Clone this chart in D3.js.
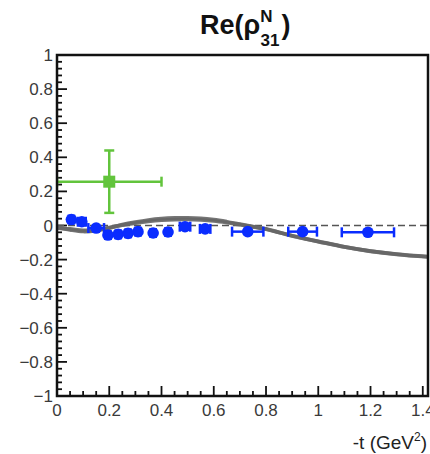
<!DOCTYPE html>
<html>
<head>
<meta charset="utf-8">
<script src="https://d3js.org/d3.v7.min.js"></script>
<style>
  body { margin: 0; background: #fff; }
  text { font-family: "Liberation Sans", Arial, sans-serif; }
</style>
</head>
<body>
<svg id="chart" width="430" height="454"></svg>
<script>
// blue data points: -t, value, x half-error
const blueT   = [0.055, 0.095, 0.15, 0.195, 0.234, 0.272, 0.31, 0.368, 0.425, 0.49, 0.567, 0.73, 0.94, 1.19];
const blueVal = [0.035, 0.022, -0.015, -0.056, -0.052, -0.046, -0.036, -0.044, -0.038, -0.007, -0.02, -0.036, -0.036, -0.04];
const blueEx  = [0.01, 0.015, 0.03, 0.01, 0.01, 0.01, 0.01, 0.01, 0.01, 0.02, 0.02, 0.06, 0.055, 0.1];
const blueEy  = [0.012, 0.012, 0.012, 0.012, 0.012, 0.012, 0.012, 0.012, 0.012, 0.015, 0.015, 0.015, 0.015, 0.015];

// green point
const greenT = [0.2], greenVal = [0.257], greenEx = [0.2], greenEy = [0.183];

// model curves
const curveT = [0, 0.05, 0.1, 0.15, 0.2, 0.25, 0.3, 0.35, 0.4, 0.45, 0.5, 0.55, 0.6, 0.65, 0.7, 0.75, 0.8, 0.85, 0.9, 0.95, 1.0, 1.1, 1.2, 1.3, 1.42];
const curveA = [-0.01, -0.025, -0.035, -0.03, -0.015, 0.005, 0.02, 0.032, 0.04, 0.044, 0.045, 0.042, 0.034, 0.022, 0.008, -0.006, -0.02, -0.04, -0.06, -0.077, -0.093, -0.125, -0.15, -0.168, -0.183];
const curveB = [-0.015, -0.02, -0.028, -0.025, -0.012, 0.002, 0.014, 0.024, 0.031, 0.035, 0.036, 0.033, 0.027, 0.017, 0.005, -0.008, -0.022, -0.041, -0.061, -0.078, -0.094, -0.126, -0.151, -0.169, -0.184];

const xTicks = [0, 0.2, 0.4, 0.6, 0.8, 1, 1.2, 1.4];
const yTicks = [1, 0.8, 0.6, 0.4, 0.2, 0, -0.2, -0.4, -0.6, -0.8, -1];

const svg = d3.select("#chart");
const mLeft = 57, mRight = 428, mTop = 55, mBottom = 396;

const x = d3.scaleLinear().domain([0, 1.42]).range([mLeft, mRight]);
const y = d3.scaleLinear().domain([-1, 1]).range([mBottom, mTop]);

// minor/major ticks on left and bottom
const g = svg.append("g");
d3.range(-1, 1.0001, 0.04).forEach(v => {
  const major = Math.abs(Math.round(v * 5) - v * 5) < 1e-6;
  g.append("line").attr("x1", mLeft).attr("x2", mLeft + (major ? 10 : 5))
    .attr("y1", y(v)).attr("y2", y(v)).attr("stroke", "#111").attr("stroke-width", 1.8);
});
d3.range(0, 1.42, 0.05).forEach(v => {
  const major = Math.abs(Math.round(v * 5) - v * 5) < 1e-6;
  g.append("line").attr("y1", mBottom).attr("y2", mBottom - (major ? 10 : 5))
    .attr("x1", x(v)).attr("x2", x(v)).attr("stroke", "#111").attr("stroke-width", 1.8);
});

// tick labels
const fmt = v => (v < 0 ? "\u2212" : "") + String(Math.abs(Math.round(v * 10) / 10));
svg.selectAll(".ylab").data(yTicks).enter().append("text")
  .attr("x", mLeft - 4).attr("y", d => y(d) + 6)
  .attr("text-anchor", "end").attr("font-size", 17).attr("fill", "#3a3a3a")
  .text(fmt);
svg.selectAll(".xlab").data(xTicks).enter().append("text")
  .attr("x", d => x(d)).attr("y", mBottom + 20)
  .attr("text-anchor", "middle").attr("font-size", 17).attr("fill", "#3a3a3a")
  .text(fmt);

// axis title
const xt = svg.append("text").attr("x", 427).attr("y", 449).attr("text-anchor", "end")
  .attr("font-size", 19).attr("fill", "#222");
xt.append("tspan").text("-t (GeV");
xt.append("tspan").attr("font-size", 12).attr("dy", -8).text("2");
xt.append("tspan").attr("dy", 8).text(")");

// title
const tt = svg.append("text").attr("x", 200).attr("y", 34)
  .attr("font-size", 27).attr("font-weight", "bold").attr("fill", "#111");
tt.append("tspan").text("Re(\u03c1");
tt.append("tspan").attr("font-size", 17).attr("dy", -12).text("N");
tt.append("tspan").attr("font-size", 17).attr("dx", -12).attr("dy", 24).text("31");
tt.append("tspan").attr("dx", 2).attr("dy", -12).text(")");

// clip for plot area
svg.append("clipPath").attr("id", "clip").append("rect")
  .attr("x", mLeft).attr("y", mTop).attr("width", mRight - mLeft).attr("height", mBottom - mTop);
const plot = svg.append("g").attr("clip-path", "url(#clip)");

// zero dashed line
plot.append("line").attr("x1", mLeft).attr("x2", mRight).attr("y1", y(0)).attr("y2", y(0))
  .attr("stroke", "#555").attr("stroke-width", 1.6).attr("stroke-dasharray", "7,4");

// model curves
const line = d3.line().curve(d3.curveCatmullRom);
[curveA, curveB].forEach(c => {
  plot.append("path").attr("d", line(curveT.map((t, i) => [x(t), y(c[i])])))
    .attr("fill", "none").attr("stroke", "#666").attr("stroke-width", 3.8).attr("opacity", 0.9);
});

// error bars helper
function drawPoints(T, V, EX, EY, color, shape) {
  const pg = plot.append("g");
  T.forEach((t, i) => {
    const cx = x(t), cy = y(V[i]);
    const x0 = x(t - EX[i]), x1 = x(t + EX[i]);
    const y0 = y(V[i] - EY[i]), y1 = y(V[i] + EY[i]);
    pg.append("line").attr("x1", x0).attr("x2", x1).attr("y1", cy).attr("y2", cy)
      .attr("stroke", color).attr("stroke-width", 2.5);
    pg.append("line").attr("x1", cx).attr("x2", cx).attr("y1", y0).attr("y2", y1)
      .attr("stroke", color).attr("stroke-width", 2.5);
    [x0, x1].forEach(xx => pg.append("line").attr("x1", xx).attr("x2", xx)
      .attr("y1", cy - 5).attr("y2", cy + 5).attr("stroke", color).attr("stroke-width", 2.5));
    if (EY[i] > 0.05) {
      [y0, y1].forEach(yy => pg.append("line").attr("x1", cx - 5).attr("x2", cx + 5)
        .attr("y1", yy).attr("y2", yy).attr("stroke", color).attr("stroke-width", 2.5));
    }
    if (shape === "square") {
      pg.append("rect").attr("x", cx - 6).attr("y", cy - 6).attr("width", 12).attr("height", 12)
        .attr("fill", color);
    } else {
      pg.append("circle").attr("cx", cx).attr("cy", cy).attr("r", 5.8).attr("fill", color);
    }
  });
}
drawPoints(greenT, greenVal, greenEx, greenEy, "#62c43c", "square");
drawPoints(blueT, blueVal, blueEx, blueEy, "#0a2cff", "circle");

// frame
svg.append("rect").attr("x", mLeft).attr("y", mTop).attr("width", mRight - mLeft).attr("height", mBottom - mTop)
  .attr("fill", "none").attr("stroke", "#111").attr("stroke-width", 2.5);
</script>
</body>
</html>
